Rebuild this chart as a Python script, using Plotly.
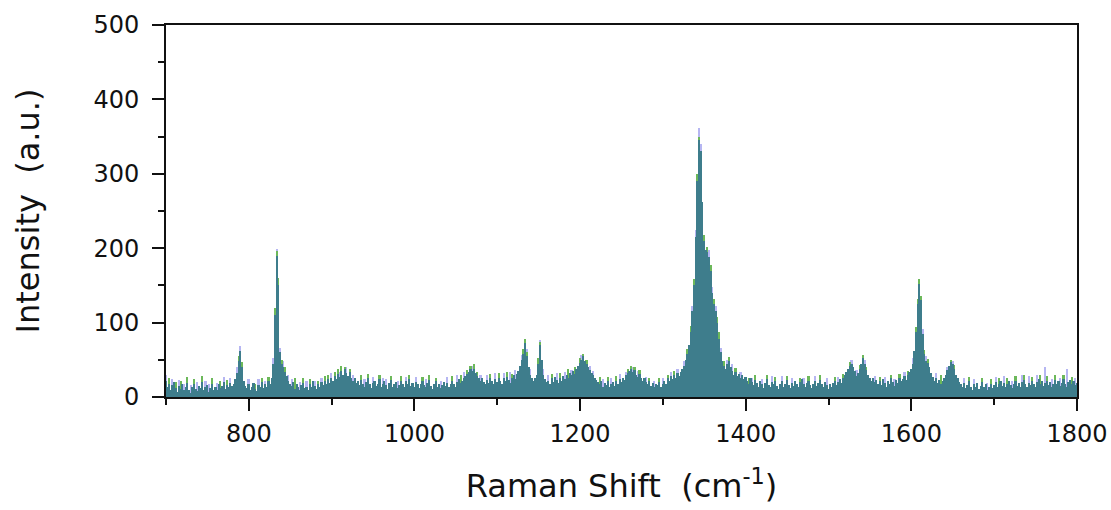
import numpy as np
import plotly.graph_objects as go

# Raman shift grid (cm^-1), 2 cm^-1 steps from 700 to 1800
shift_start = 700
shift_step = 2

# Main spectrum intensity, one row per 20 cm^-1 (row start noted)
intensity_main = [
    22, 14, 18, 9, 16, 20, 12, 7, 15, 11,        # 700
    17, 9, 13, 19, 10, 6, 14, 18, 11, 8,         # 720
    15, 12, 20, 9, 13, 16, 7, 12, 18, 10,        # 740
    14, 9, 17, 12, 15, 20, 11, 16, 13, 19,       # 760
    15, 18, 24, 32, 48, 62, 40, 22, 15, 12,      # 780
    17, 10, 14, 19, 11, 8, 16, 13, 20, 12,       # 800
    17, 14, 21, 18, 26, 45, 110, 190, 150, 60,   # 820
    44, 40, 34, 28, 22, 18, 15, 20, 11, 17,      # 840
    13, 9, 16, 19, 12, 14, 10, 18, 13, 21,       # 860
    15, 11, 17, 14, 20, 16, 22, 18, 24, 19,      # 880
    26, 22, 28, 24, 31, 27, 35, 30, 37, 32,      # 900
    28, 33, 25, 22, 26, 19, 21, 16, 23, 18,      # 920
    14, 20, 25, 17, 12, 19, 22, 15, 18, 24,      # 940
    13, 17, 21, 16, 11, 19, 23, 14, 18, 20,      # 960
    12, 16, 22, 17, 13, 21, 18, 24, 15, 19,      # 980
    14, 20, 17, 12, 18, 22, 16, 13, 19, 23,      # 1000
    15, 11, 17, 21, 14, 18, 12, 16, 20, 15,      # 1020
    19, 13, 17, 22, 18, 14, 20, 24, 19, 22,      # 1040
    26, 28, 31, 34, 37, 35, 38, 32, 28, 25,      # 1060
    22, 26, 20, 18, 23, 19, 25, 21, 17, 24,      # 1080
    20, 26, 22, 18, 25, 21, 27, 23, 19, 26,      # 1100
    29, 24, 31, 35, 42, 50, 58, 72, 55, 40,      # 1120
    30, 26, 22, 25, 30, 45, 70, 50, 30, 24,      # 1140
    20, 22, 18, 25, 20, 27, 23, 19, 26, 22,      # 1160
    28, 24, 30, 26, 32, 29, 35, 31, 38, 42,      # 1180
    46, 50, 55, 48, 44, 40, 36, 32, 29, 26,      # 1200
    23, 20, 17, 22, 14, 19, 16, 21, 13, 18,      # 1220
    20, 15, 22, 18, 24, 20, 26, 23, 29, 32,      # 1240
    35, 38, 33, 36, 30, 27, 31, 25, 22, 26,      # 1260
    20, 17, 21, 15, 19, 13, 18, 16, 20, 14,      # 1280
    18, 22, 17, 25, 21, 28, 24, 30, 26, 32,      # 1300
    28, 34, 38, 42, 50, 58, 70, 88, 115, 150,    # 1320
    215, 290, 345, 330, 262, 210, 198, 195, 188, 170,  # 1340
    140, 125, 115, 100, 78, 60, 48, 42, 38, 44,  # 1360
    48, 40, 35, 30, 34, 28, 31, 26, 29, 24,      # 1380
    27, 22, 18, 25, 20, 16, 23, 19, 14, 21,      # 1400
    17, 12, 19, 24, 16, 13, 20, 17, 22, 15,      # 1420
    11, 18, 21, 14, 17, 23, 16, 12, 19, 15,      # 1440
    21, 18, 13, 20, 24, 17, 14, 19, 22, 16,      # 1460
    12, 18, 21, 15, 19, 23, 17, 13, 20, 16,      # 1480
    11, 17, 14, 19, 22, 16, 20, 24, 19, 26,      # 1500
    30, 33, 38, 42, 45, 40, 35, 28, 32, 38,      # 1520
    45, 52, 44, 36, 30, 26, 22, 25, 20, 23,      # 1540
    18, 21, 16, 24, 19, 14, 22, 18, 25, 20,      # 1560
    15, 23, 19, 26, 21, 24, 28, 23, 30, 34,      # 1580
    38, 45, 62, 88, 125, 152, 130, 85, 58, 48,   # 1600
    46, 40, 32, 27, 22, 25, 19, 23, 17, 21,      # 1620
    26, 30, 36, 42, 47, 44, 38, 30, 25, 20,      # 1640
    17, 14, 19, 12, 16, 21, 13, 9, 17, 14,       # 1660
    19, 11, 15, 20, 13, 17, 10, 14, 18, 12,      # 1680
    16, 20, 14, 18, 22, 15, 19, 13, 17, 21,      # 1700
    16, 12, 18, 22, 15, 19, 14, 20, 23, 17,      # 1720
    13, 19, 16, 21, 18, 14, 20, 24, 17, 21,      # 1740
    15, 19, 22, 16, 20, 13, 18, 23, 17, 21,      # 1760
    15, 19, 24, 18, 14, 20, 23, 17, 21, 16,      # 1780
    19,                                          # 1800
]

# Second spectrum: bars that rise above the main one
green_shift = [
    704, 712, 718, 726, 734, 744, 756, 766, 774, 788, 792, 808, 816, 824,
    832, 834, 836, 840, 844, 856, 866, 874, 884, 892, 896, 904, 908, 912,
    916, 922, 936, 944, 958, 972, 984, 994, 1010, 1018, 1026, 1046, 1056,
    1064, 1068, 1072, 1076, 1092, 1102, 1112, 1118, 1132, 1134, 1136, 1150,
    1152, 1166, 1176, 1186, 1194, 1200, 1204, 1208, 1224, 1234, 1244, 1258,
    1262, 1266, 1272, 1284, 1296, 1306, 1314, 1330, 1334, 1338, 1342, 1344,
    1350, 1354, 1358, 1362, 1366, 1368, 1374, 1380, 1388, 1404, 1412, 1426,
    1436, 1450, 1466, 1476, 1490, 1508, 1518, 1526, 1538, 1542, 1546, 1562,
    1576, 1586, 1596, 1606, 1608, 1610, 1612, 1616, 1620, 1636, 1648, 1652,
    1670, 1686, 1696, 1706, 1716, 1726, 1736, 1746, 1756, 1764, 1774, 1784,
    1794,
]
green_intensity = [
    26, 20, 22, 27, 24, 28, 25, 21, 23, 55, 47, 18, 26, 27,
    120, 196, 160, 50, 40, 26, 25, 24, 22, 28, 30, 34, 38, 42,
    41, 38, 29, 31, 30, 28, 28, 30, 27, 29, 26, 28, 29,
    36, 42, 44, 34, 31, 32, 33, 31, 64, 78, 60, 52,
    74, 31, 32, 37, 40, 52, 58, 50, 27, 27, 28, 38,
    42, 41, 36, 26, 25, 30, 35, 64, 95, 158, 300, 350,
    218, 202, 178, 132, 108, 88, 48, 54, 39, 26, 29, 30,
    27, 28, 26, 28, 29, 27, 31, 47, 43, 56, 40, 27,
    30, 31, 35, 94, 132, 159, 136, 63, 51, 29, 50, 43,
    27, 26, 24, 26, 25, 28, 29, 27, 30, 28, 29, 30,
    27,
]

# Third spectrum: bars that rise above the main one
violet_shift = [
    700, 708, 716, 722, 730, 738, 748, 752, 762, 770, 778, 786, 790, 800,
    812, 820, 830, 834, 838, 842, 848, 852, 862, 870, 880, 888, 900, 910,
    918, 926, 940, 950, 962, 966, 980, 990, 1002, 1014, 1032, 1040, 1052,
    1060, 1070, 1080, 1088, 1098, 1108, 1116, 1122, 1130, 1136, 1140, 1152,
    1156, 1162, 1172, 1182, 1190, 1202, 1212, 1216, 1228, 1238, 1248, 1256,
    1264, 1270, 1280, 1290, 1300, 1310, 1318, 1326, 1336, 1340, 1344, 1346,
    1356, 1360, 1364, 1370, 1378, 1384, 1394, 1408, 1420, 1432, 1444, 1456,
    1470, 1484, 1498, 1512, 1528, 1534, 1544, 1556, 1568, 1580, 1592, 1602,
    1610, 1614, 1618, 1630, 1644, 1650, 1664, 1676, 1692, 1702, 1712, 1722,
    1734, 1742, 1752, 1762, 1770, 1780, 1788, 1798,
]
violet_intensity = [
    30, 24, 23, 18, 16, 20, 22, 18, 19, 27, 26, 40, 68, 24,
    24, 22, 52, 199, 66, 48, 30, 24, 20, 22, 21, 26, 32, 34,
    40, 30, 24, 27, 26, 24, 22, 27, 27, 24, 22, 27, 30,
    33, 42, 30, 30, 32, 32, 34, 36, 56, 64, 37, 76,
    38, 30, 32, 33, 36, 56, 42, 35, 24, 26, 31, 34,
    40, 35, 27, 22, 26, 34, 38, 48, 122, 225, 362, 340,
    198, 148, 122, 66, 50, 44, 34, 26, 24, 28, 28, 26,
    25, 28, 25, 27, 50, 36, 50, 28, 27, 24, 34, 52,
    156, 92, 55, 32, 40, 49, 26, 24, 19, 27, 28, 22,
    30, 28, 30, 40, 24, 26, 38, 25,
]

main_shift = shift_start + shift_step * np.arange(len(intensity_main))

COLOR_MAIN = "#3e7d8c"
COLOR_GREEN = "#6cb85a"
COLOR_VIOLET = "#b6b6f2"

fig = go.Figure()
for xs, ys, col in [
    (violet_shift, violet_intensity, COLOR_VIOLET),
    (green_shift, green_intensity, COLOR_GREEN),
    (main_shift, intensity_main, COLOR_MAIN),
]:
    fig.add_trace(go.Bar(
        x=xs, y=ys, width=shift_step,
        marker=dict(color=col, line=dict(width=0)),
        showlegend=False, hoverinfo="x+y",
    ))

FONT_FAMILY = "DejaVu Sans, Liberation Sans, Arial, sans-serif"
axis_font = dict(family=FONT_FAMILY, size=24, color="#111111")
title_font = dict(family=FONT_FAMILY, size=32, color="#111111")

fig.update_layout(
    width=1111, height=510,
    margin=dict(l=166, r=34, t=25, b=113),
    paper_bgcolor="white", plot_bgcolor="white",
    barmode="overlay", bargap=0,
    font=axis_font,
)
fig.update_xaxes(
    range=[700, 1800], tickmode="linear", tick0=800, dtick=200,
    ticks="outside", ticklen=12, tickwidth=2, tickcolor="#111111",
    minor=dict(ticks="outside", ticklen=6, tickwidth=2, dtick=100, tick0=700, tickcolor="#111111"),
    showline=True, linewidth=2, linecolor="#111111", mirror=True,
    showgrid=False, zeroline=False, tickfont=axis_font, ticklabelstandoff=2,
    automargin=False,
    title=dict(text="Raman Shift\u00a0\u00a0(cm<sup>-1</sup>)", font=title_font, standoff=28),
)
fig.update_yaxes(
    range=[0, 500], tickmode="linear", tick0=0, dtick=100,
    ticks="outside", ticklen=12, tickwidth=2, tickcolor="#111111",
    minor=dict(ticks="outside", ticklen=6, tickwidth=2, dtick=50, tick0=0, tickcolor="#111111"),
    showline=True, linewidth=2, linecolor="#111111", mirror=True,
    showgrid=False, zeroline=False, tickfont=axis_font, ticklabelstandoff=8,
    title=dict(text="Intensity\u00a0\u00a0(a.u.)", font=title_font, standoff=44),
)

fig.write_html("out.html")
